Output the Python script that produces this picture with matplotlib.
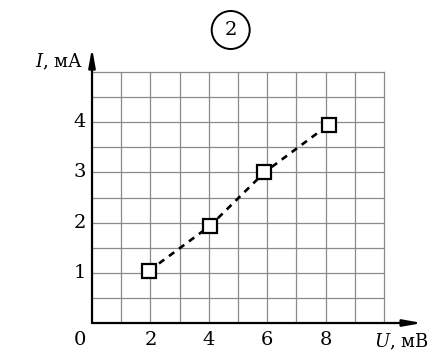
import matplotlib
matplotlib.use("Agg")
import matplotlib.pyplot as plt
from matplotlib.patches import Ellipse

U = [1.95, 4.05, 5.9, 8.1]
I = [1.04, 1.94, 3.0, 3.95]
xticks = [2, 4, 6, 8]
yticks = [1, 2, 3, 4]

plt.rcParams['font.family'] = ['DejaVu Serif']
plt.rcParams['mathtext.fontset'] = 'dejavuserif'

fig = plt.figure(figsize=(4.32, 3.57), dpi=100)
ax = fig.add_axes([0.213, 0.0952, 0.764, 0.773])
ax.set_xlim(0, 11.3)
ax.set_ylim(0, 5.5)
ax.axis('off')

# grid
for x in range(1, 11):
    ax.plot([x, x], [0, 5], color='#8a8a8a', lw=0.9, zorder=1)
for k in range(1, 11):
    y = k * 0.5
    ax.plot([0, 10], [y, y], color='#8a8a8a', lw=0.9, zorder=1)

# axes arrows
ax.annotate('', xy=(11.3, 0), xytext=(0, 0),
            arrowprops=dict(arrowstyle='-|>,head_length=1.1,head_width=0.2', color='black', lw=1.6, shrinkA=0, shrinkB=0), zorder=3)
ax.annotate('', xy=(0, 5.48), xytext=(0, 0),
            arrowprops=dict(arrowstyle='-|>,head_length=1.1,head_width=0.2', color='black', lw=1.6, shrinkA=0, shrinkB=0), zorder=3)

# data
ax.plot(U, I, linestyle=(0, (2.5, 2.2)), color='black', lw=1.9, zorder=4)
ax.plot(U, I, linestyle='none', marker='s', markersize=10, markerfacecolor='white',
        markeredgecolor='black', markeredgewidth=1.6, zorder=5)

# tick labels
for x in xticks:
    ax.text(x, -0.33, str(x), ha='center', va='center', fontsize=14)
ax.text(-0.42, -0.33, '0', ha='center', va='center', fontsize=14)
for y in yticks:
    ax.text(-0.42, y, str(y), ha='center', va='center', fontsize=14)

ax.text(-0.3, 5.2, r'$I$, мА', ha='right', va='center', fontsize=13)
ax.text(9.65, -0.38, r'$U$, мВ', ha='left', va='center', fontsize=13)

# circled number
cx, cy = 230.7 / 432, 1 - 30 / 357
fig.patches.append(Ellipse((cx, cy), 38 / 432, 38 / 357, transform=fig.transFigure,
                           fill=False, edgecolor='black', lw=1.4))
fig.text(cx, cy, '2', ha='center', va='center', fontsize=14)

fig.savefig('out.png', dpi=100)
